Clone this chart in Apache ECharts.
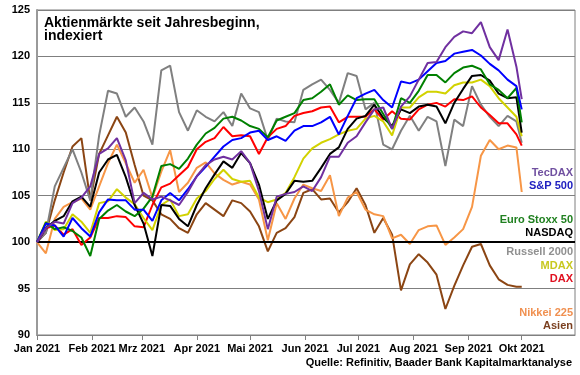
<!DOCTYPE html>
<html>
<head>
<meta charset="utf-8">
<script src="https://cdn.jsdelivr.net/npm/echarts@6/dist/echarts.min.js"></script>
<style>
  html, body { margin: 0; padding: 0; background: #fff; }
  #chart { width: 580px; height: 375px; }
</style>
</head>
<body>
<div id="chart"></div>
<script>
// Stützstellen (ca. alle 5 Tage), Werte indexiert auf 100 am 1.1.2021
const sampleDates = [
  '2021-01-01','2021-01-06','2021-01-11','2021-01-16','2021-01-21','2021-01-26','2021-01-31',
  '2021-02-05','2021-02-10','2021-02-15','2021-02-20','2021-02-25',
  '2021-03-02','2021-03-07','2021-03-12','2021-03-17','2021-03-22','2021-03-27',
  '2021-04-01','2021-04-06','2021-04-11','2021-04-16','2021-04-21','2021-04-26',
  '2021-05-01','2021-05-06','2021-05-11','2021-05-16','2021-05-21','2021-05-26','2021-05-31',
  '2021-06-05','2021-06-10','2021-06-15','2021-06-20','2021-06-25','2021-06-30',
  '2021-07-05','2021-07-10','2021-07-15','2021-07-20','2021-07-25','2021-07-30',
  '2021-08-04','2021-08-09','2021-08-14','2021-08-19','2021-08-24','2021-08-29',
  '2021-09-03','2021-09-08','2021-09-13','2021-09-18','2021-09-23','2021-09-28',
  '2021-10-01'
];

const monthLabels = ['Jan 2021','Feb 2021','Mrz 2021','Apr 2021','Mai 2021','Jun 2021',
  'Jul 2021','Aug 2021','Sep 2021','Okt 2021','Nov 2021','Dez 2021'];

const tecdax = [100,101.5,102.2,102,104.2,104.8,106, 109.5,110.1,111.2,108.8,104.2,
  105.3,104.6,104.9,104.5,104,105.4, 107.1,108.3,108.9,109.2,108.9,109.8,
  108.5,105.5,101.4,104.9,105.2,105.4,106, 105.5,107,109.2,109.2,110.7,111.4,
  112.9,114.3,114.5,112.2,114.6,115.7, 117.5,119.3,119.4,121,122.1,122.7,
  122.5,123.7,121,119.6,122.9,118.9, 115.4];
const sp500 = [100,102,101.8,100.6,102.6,101.5,100.6, 103.2,104.6,104.5,104.5,103.5,
  103.5,102.3,104.5,105.3,104.5,105.7, 107.1,108.1,109.2,110.3,111,111.2,
  111.8,112,111,111.4,110.9,112,112.5, 112.5,112.9,113.5,111.6,113.6,115.5,
  116,116.4,115.3,114.5,117.3,117.1, 117.5,118.4,119.3,119.5,120.3,120.5,
  120.7,120.1,119.2,118.5,117.5,116.8, 114.3];
const eurostoxx = [100,102.1,101.4,101.6,101.2,100.5,98.5, 102.5,103.4,104,103.3,102.8,
  103.6,104.9,108.2,108.4,107.9,109, 110.5,111.7,112.3,113.3,113.5,113.1,
  112.5,112.2,111.3,113.1,113.5,113.9,115.3, 115.5,116.2,117,114.8,115.8,115.3,
  115.4,115.4,113.8,112.2,115.5,115, 116.3,118,118,117.2,118.2,118.8,
  119,118.6,117,116.4,115.5,116.6, 112.9];
const nasdaq = [100,101.5,102.3,102.8,104.4,104.9,103.8, 107.5,108.9,109.4,107,104,
  102,98.5,104,103.9,102.5,101.7, 104,105.8,107.3,108.7,108,109.6,
  108.5,106.2,102.5,104.5,105.2,106.6,106.5, 106.6,108,109.5,110.2,112.2,113.3,
  113.6,114.8,113.4,112.5,114.3,113.9, 114.6,114.8,114.6,112.8,115,116.5,
  117.9,118,117.4,116,115.5,115.6, 111.8];
const russell = [100,101,106,108,110,107.5,104.5, 111.5,116.3,116,113.5,114.5,
  113,110.5,118.5,119,114,112, 114.2,113.5,113,114,112.5,116,
  114.4,114,111,113.3,113,112.9,116.4, 117,117.5,116.4,115,118.2,117.9,
  114.3,115,110.5,110,112,113.6, 112,113.5,113,108.2,113.2,112.5,
  116.8,114.8,113.5,112.5,113.6,113, 110.7];
const mdax = [100,102.2,101.3,101.4,103,102.2,101, 104.2,104.4,105.7,104.8,104.1,
  102.6,101.3,104,104.6,102.8,103, 104.7,105.5,106.8,107.8,106.8,106.5,
  106.6,104.8,104.3,104.6,105.3,107,109, 110.1,110.7,111.1,111.6,112,112.2,
  113.3,113.6,113,111.5,114.5,114.5, 115.6,116.2,116.2,116,116.9,117.2,
  117.2,117.5,116.8,115.5,114.5,113.5, 111.4];
const dax = [100,101.5,101.8,100.8,101.4,99.7,100.5, 102.6,102.6,102.8,102.7,101.7,
  101.6,104,105.9,106.3,107.2,108.1, 110,110.8,111.2,112.4,111.4,111.5,
  111.4,109.5,111.3,112.2,112.5,113.6,113.9, 114.1,114.5,114.6,112.9,113.5,113.5,
  113.5,114.3,113.2,114.1,113.3,113.2, 114.3,114.8,115,114.6,115.4,115.3,
  115.7,114.5,113.7,112.8,112.8,111.6, 110.4];
const nikkei = [100,98.8,102.5,103.8,104.3,104.7,103.5, 106,108.5,110.5,108.5,106.4,
  107.8,104.8,107.6,109.9,105.4,106.4, 108,108.6,107.4,106.7,106.2,106.5,
  106.2,104.6,100.2,104.2,102.5,104.7,106.2, 105.8,105.5,107.2,102.8,104.8,105.4,
  103.5,103,102.8,100.4,100.8,99.8, 101.3,101.7,101.8,99.7,100.5,101.4,
  103.8,109.3,111,110,110.4,110.2, 105.4];
const asien = [100,101,104.5,107.5,110.3,111.2,104.5, 109.5,111.5,113.5,111.8,108.3,
  105,104.5,103,102.5,101.5,101, 103,104.2,103.5,102.8,104.5,104.2,
  103.3,101.7,99,101,101.5,102.7,105.3, 105.7,104.6,104.7,103.2,104.3,105.8,
  104,101,102.6,100.8,94.8,97.6, 98.7,97.8,96.5,92.8,95.3,97.5,
  99.5,99.8,97.5,96,95.4,95.2, 95.2];

// Kalendertage als Kategorien (1.1. bis 31.10.)
const days = [];
for (let t = Date.UTC(2021, 0, 1); t <= Date.UTC(2021, 9, 31); t += 86400000) {
  days.push(new Date(t).toISOString().slice(0, 10));
}

function toDaily(vals) {
  const arr = days.map(() => null);
  sampleDates.forEach((d, i) => { arr[days.indexOf(d)] = vals[i]; });
  return arr;
}

const FONT = 'Arial, "Liberation Sans", sans-serif';

// name, data, line colour, label colour, label y
const lines = [
  ['Asien', asien, '#8B4513', '#7B4020', 327],
  ['Nikkei 225', nikkei, '#F79646', '#F09050', 314],
  ['Russell 2000', russell, '#808080', '#909090', 253],
  ['DAX', dax, '#FF0000', '#E01020', 280],
  ['MDAX', mdax, '#D2D200', '#C8C820', 267],
  ['NASDAQ', nasdaq, '#000000', '#000000', 234],
  ['Euro Stoxx 50', eurostoxx, '#008000', '#208020', 221],
  ['S&P 500', sp500, '#0000FF', '#2020C0', 187],
  ['TecDAX', tecdax, '#7030A0', '#7050A0', 174]
];

const series = lines.map((l, i) => ({
  name: l[0],
  type: 'line',
  data: toDaily(l[1]),
  connectNulls: true,
  showSymbol: false,
  lineStyle: { color: l[2], width: 2 },
  itemStyle: { color: l[2] },
  z: 3 + i,
  markLine: i === 0 ? {
    silent: true,
    symbol: 'none',
    label: { show: false },
    lineStyle: { color: '#000', width: 2, type: 'solid' },
    data: [{ yAxis: 100 }]
  } : undefined
}));

const graphics = lines.map(l => ({
  type: 'text',
  right: 7,
  top: l[4] - 7,
  style: { text: l[0], fill: l[3], font: 'bold 11px ' + FONT }
}));
graphics.push({
  type: 'text', left: 44, top: 16,
  style: { text: 'Aktienmärkte seit Jahresbeginn,\nindexiert', fill: '#000', font: 'bold 14px ' + FONT, lineHeight: 13 }
});
graphics.push({
  type: 'text', right: 8, top: 357,
  style: { text: 'Quelle: Refinitiv, Baader Bank Kapitalmarktanalyse', fill: '#000', font: 'bold 11px ' + FONT }
});

const option = {
  animation: false,
  backgroundColor: '#fff',
  grid: { left: 37, right: 5, top: 10, bottom: 40, show: true, borderColor: '#7f7f7f', borderWidth: 1 },
  xAxis: {
    type: 'category',
    data: days,
    boundaryGap: false,
    axisLine: { lineStyle: { color: '#808080', width: 1 } },
    axisTick: {
      interval: (i, v) => v.slice(8) === '01',
      length: 5,
      lineStyle: { color: '#808080' }
    },
    axisLabel: {
      interval: (i, v) => v.slice(8) === '01',
      formatter: v => monthLabels[+v.slice(5, 7) - 1],
      color: '#000',
      fontFamily: FONT,
      fontWeight: 'bold',
      fontSize: 11,
      margin: 8
    },
    splitLine: { show: false }
  },
  yAxis: {
    type: 'value',
    min: 90,
    max: 125,
    interval: 5,
    axisLine: { show: true, lineStyle: { color: '#9a9a9a', width: 2 } },
    axisTick: { show: false },
    axisLabel: { color: '#000', fontFamily: FONT, fontWeight: 'bold', fontSize: 11, margin: 7 },
    splitLine: { lineStyle: { color: '#7f7f7f', width: 1 } }
  },
  graphic: graphics,
  series: series
};

const chartObj = echarts.init(document.getElementById('chart'));
chartObj.setOption(option);
</script>
</body>
</html>
